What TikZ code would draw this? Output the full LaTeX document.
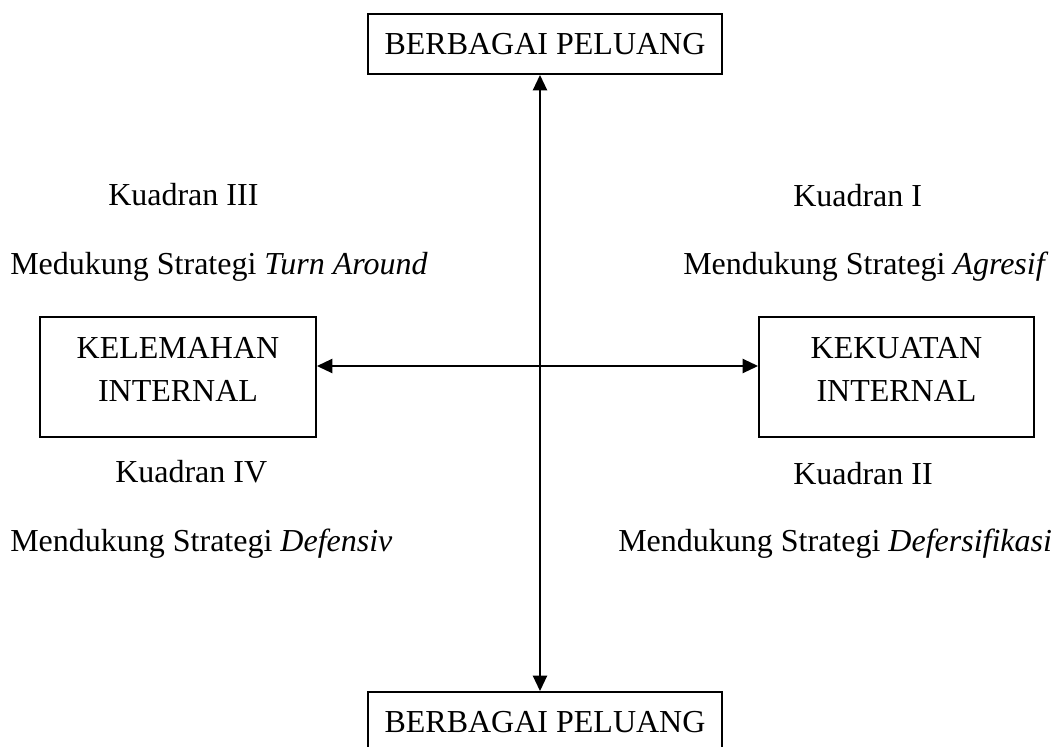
\documentclass[tikz,border=0pt]{standalone}
\usepackage{fontspec}
\setmainfont{Liberation Serif}
\usetikzlibrary{arrows.meta}
\begin{document}
\begin{tikzpicture}[x=0.75pt,y=-0.75pt,
  txt/.style={inner sep=0pt,font=\fontsize{24}{32.25}\selectfont},
  boxnode/.style={draw,line width=1.4pt,inner sep=0pt,font=\fontsize{24}{32.25}\selectfont},
  axisarrow/.style={line width=1.5pt,{Triangle[length=11.5pt,width=10.5pt]}-{Triangle[length=11.5pt,width=10.5pt]}}]
\useasboundingbox (0,0) rectangle (1058,747);
% boxes
\node[boxnode,minimum width=265.5pt,minimum height=45pt] (top) at (545,44) {BERBAGAI PELUANG};
\node[boxnode,minimum width=265.5pt,minimum height=45pt] (bot) at (545,722) {BERBAGAI PELUANG};
\node[boxnode,minimum width=207pt,minimum height=90pt] (kel) at (178,377) {};
\node[boxnode,minimum width=206.25pt,minimum height=90pt] (kek) at (896.5,377) {};
\node[txt,align=center] (kelt) at (178,369) {KELEMAHAN\\INTERNAL};
\node[txt,align=center] (kekt) at (896.5,369) {KEKUATAN\\INTERNAL};
% axes
\coordinate (c) at (540,366);
\draw[axisarrow] (c |- top.south) -- (c |- bot.north);
\draw[axisarrow] (kel.east |- c) -- (kek.west |- c);
% quadrant labels
\node[txt,anchor=base west] (k3) at (108,205) {Kuadran III};
\node[txt,anchor=base west] (s3) at (10,274) {Medukung Strategi \textit{Turn Around}};
\node[txt,anchor=base west] (k1) at (793,206) {Kuadran I};
\node[txt,anchor=base west] (s1) at (683,274) {Mendukung Strategi \textit{Agresif}};
\node[txt,anchor=base west] (k4) at (115,482) {Kuadran IV};
\node[txt,anchor=base west] (s4) at (10,551) {Mendukung Strategi \textit{Defensiv}};
\node[txt,anchor=base west] (k2) at (793,484) {Kuadran II};
\node[txt,anchor=base west] (s2) at (618,551) {Mendukung Strategi \textit{Defersifikasi}};
\end{tikzpicture}
\end{document}
